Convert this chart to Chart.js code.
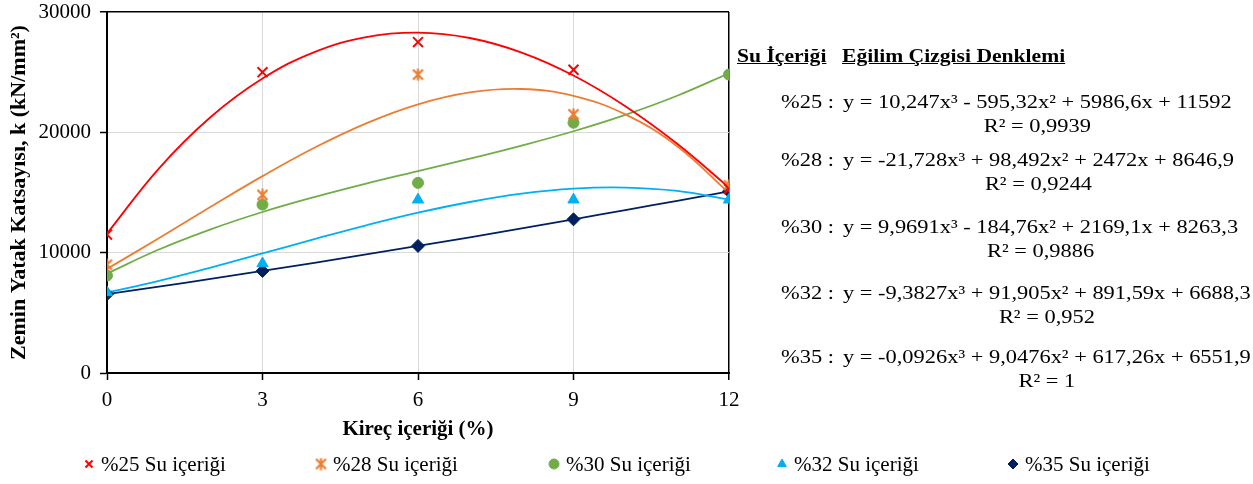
<!DOCTYPE html>
<html>
<head>
<meta charset="utf-8">
<script src="https://cdn.jsdelivr.net/npm/chart.js@4.4.1/dist/chart.umd.min.js"></script>
<style>
html, body { margin: 0; padding: 0; background: #fff; }
#wrap { position: relative; width: 1253px; height: 484px; }
#chart { position: absolute; left: 0; top: 0; }
.txt { position: absolute; font-family: "Liberation Serif", "Times New Roman", serif; color: #000; white-space: nowrap; transform-origin: left top; }
.hdr { font-weight: bold; text-decoration: underline; font-size: 18px; transform: scaleX(1.2); }
.lbl { font-size: 19px; line-height: 24px; transform: scaleX(1.18); }
.eq { font-size: 19px; line-height: 24px; text-align: center; transform: scaleX(1.18); }
</style>
</head>
<body>
<div id="wrap">
  <canvas id="chart" width="1253" height="484"></canvas>
  <div id="notes"></div>
</div>
<script>
// kireç içeriği (%)
const kirec = [0, 3, 6, 9, 12];

// measured k values (kN/mm²) for each water content
const su25 = [11500, 25000, 27500, 25200, 15300];
const su28 = [9000, 14800, 24800, 21500, 15600];
const su30 = [8100, 14000, 15800, 20800, 24800];
const su32 = [6700, 9100, 14400, 14400, 14400];
const su35 = [6550, 8480, 10560, 12770, 15100];

// trend curves read at every 1 % of lime
const trendX = [0, 1, 2, 3, 4, 5, 6, 7, 8, 9, 10, 11, 12];
const trend25 = [11590, 16990, 21270, 24470, 26670, 27920, 28290, 27840, 26630, 24720, 22170, 19050, 15410];
const trend28 = [8650, 11200, 13810, 16360, 18720, 20750, 22330, 23320, 23600, 23030, 21490, 18840, 14950];
const trend30 = [8260, 10260, 11940, 13380, 14620, 15740, 16780, 17810, 18900, 20090, 21450, 23040, 24910];
const trend32 = [6690, 7660, 8760, 9940, 11120, 12270, 13320, 14210, 14900, 15320, 15410, 15130, 14410];
const trend35 = [6550, 7180, 7820, 8480, 9160, 9850, 10560, 11280, 12020, 12770, 13540, 14310, 15100];

const seriesNames = ["%25 Su içeriği", "%28 Su içeriği", "%30 Su içeriği", "%32 Su içeriği", "%35 Su içeriği"];
const colors = ["#FF0000", "#ED7D31", "#70AD47", "#00B0F0", "#002060"];

const eqLabels = ["%25 :", "%28 :", "%30 :", "%32 :", "%35 :"];
const eqTexts = [
    "y = 10,247x³ - 595,32x² + 5986,6x + 11592",
    "y = -21,728x³ + 98,492x² + 2472x + 8646,9",
    "y = 9,9691x³ - 184,76x² + 2169,1x + 8263,3",
    "y = -9,3827x³ + 91,905x² + 891,59x + 6688,3",
    "y = -0,0926x³ + 9,0476x² + 617,26x + 6551,9"
];
const r2Texts = ["R² = 0,9939", "R² = 0,9244", "R² = 0,9886", "R² = 0,952", "R² = 1"];
const eqTops = [90, 148, 215, 281, 345];

function toPoints(xs, ys) {
    return xs.map((x, i) => ({ x: x, y: ys[i] }));
}

// Excel-like star marker: X with a vertical bar
function starMarker(color, s) {
    let c = document.createElement("canvas");
    c.width = s; c.height = s;
    let g = c.getContext("2d");
    g.strokeStyle = color;
    g.lineWidth = 2.2;
    g.beginPath();
    g.moveTo(1.5, 1.5); g.lineTo(s - 1.5, s - 1.5);
    g.moveTo(s - 1.5, 1.5); g.lineTo(1.5, s - 1.5);
    g.moveTo(s / 2, 0.5); g.lineTo(s / 2, s - 0.5);
    g.stroke();
    return c;
}

const styles = [
    { pointStyle: "crossRot", radius: 7, bw: 2 },
    { pointStyle: starMarker(colors[1], 13), radius: 6, bw: 2 },
    { pointStyle: "circle", radius: 5.5, bw: 1 },
    { pointStyle: "triangle", radius: 6.5, bw: 1 },
    { pointStyle: "rectRot", radius: 6.5, bw: 1 }
];

const measured = [su25, su28, su30, su32, su35];
const trends = [trend25, trend28, trend30, trend32, trend35];

let datasets = [];
measured.forEach((vals, i) => {
    datasets.push({
        label: seriesNames[i],
        data: toPoints(kirec, vals),
        showLine: false,
        pointStyle: styles[i].pointStyle,
        pointRadius: styles[i].radius,
        pointHoverRadius: styles[i].radius,
        pointBorderWidth: styles[i].bw,
        pointBackgroundColor: colors[i],
        pointBorderColor: colors[i]
    });
});
trends.forEach((vals, i) => {
    datasets.push({
        label: "trend " + seriesNames[i],
        data: toPoints(trendX, vals),
        showLine: true,
        borderColor: colors[i],
        borderWidth: 1.8,
        pointRadius: 0,
        tension: 0.4,
        fill: false
    });
});

// legend drawn under the chart, spread over the whole width
const legendX = [89, 321, 554, 782, 1013];
const bottomLegend = {
    id: "bottomLegend",
    afterDraw(chart) {
        const ctx = chart.ctx;
        ctx.save();
        ctx.font = '21px "Liberation Serif"';
        ctx.textBaseline = "middle";
        legendX.forEach((x, i) => {
            const st = styles[i];
            ctx.fillStyle = colors[i];
            ctx.strokeStyle = colors[i];
            ctx.lineWidth = st.bw;
            Chart.helpers.drawPoint(ctx, {
                pointStyle: st.pointStyle,
                radius: i === 1 ? 5 : Math.min(st.radius, 5),
                borderWidth: st.bw,
                rotation: 0
            }, x, 464);
            ctx.fillStyle = "#000";
            ctx.fillText(seriesNames[i], x + 12, 465);
        });
        ctx.restore();
    }
};

const serif = '"Liberation Serif", "Times New Roman", serif';

new Chart(document.getElementById("chart"), {
    type: "scatter",
    data: { datasets: datasets },
    options: {
        responsive: false,
        animation: false,
        layout: { padding: { left: 0, top: 12, right: 524, bottom: 38 } },
        plugins: {
            legend: { display: false },
            tooltip: { enabled: false }
        },
        scales: {
            x: {
                type: "linear",
                min: 0,
                max: 12,
                afterFit: s => { s.height = 73; },
                ticks: { stepSize: 3, padding: 8, color: "#000", font: { family: serif, size: 21 }, callback: v => String(v) },
                grid: {
                    color: c => c.tick.value === 12 ? "#000" : "#d9d9d9",
                    lineWidth: c => c.tick.value === 12 ? 1.5 : 1,
                    tickColor: "#000",
                    tickLength: 7,
                    tickWidth: 1.5
                },
                border: { color: "#000", width: 2 },
                title: {
                    display: true,
                    text: "Kireç içeriği (%)",
                    color: "#000",
                    font: { family: serif, size: 21, weight: "bold" },
                    padding: { top: 0, bottom: 4 }
                }
            },
            y: {
                min: 0,
                max: 30000,
                afterFit: s => { s.width = 107; s.paddingTop = 0; s.paddingBottom = 0; },
                ticks: { stepSize: 10000, padding: 9, color: "#000", font: { family: serif, size: 21 }, callback: v => String(v) },
                grid: {
                    color: c => c.tick.value === 30000 ? "#000" : "#d9d9d9",
                    lineWidth: c => c.tick.value === 30000 ? 1.5 : 1,
                    tickColor: "#000",
                    tickLength: 7,
                    tickWidth: 1.5
                },
                border: { color: "#000", width: 2 },
                title: {
                    display: true,
                    text: "Zemin Yatak Katsayısı, k (kN/mm²)",
                    color: "#000",
                    font: { family: serif, size: 22, weight: "bold" },
                    padding: { top: 6, bottom: 0 }
                }
            }
        }
    },
    plugins: [bottomLegend]
});

// trend line equations on the right
let notes = document.getElementById("notes");
notes.innerHTML += '<div class="txt hdr" style="left:737px;top:46px">Su İçeriği</div>';
notes.innerHTML += '<div class="txt hdr" style="left:842px;top:46px">Eğilim Çizgisi Denklemi</div>';
eqLabels.forEach((lab, i) => {
    notes.innerHTML += `<div class="txt lbl" style="left:781px;top:${eqTops[i]}px">${lab}</div>`;
    notes.innerHTML += `<div class="txt eq" style="left:843px;top:${eqTops[i]}px">${eqTexts[i]}<br>${r2Texts[i]}</div>`;
});
</script>
</body>
</html>
